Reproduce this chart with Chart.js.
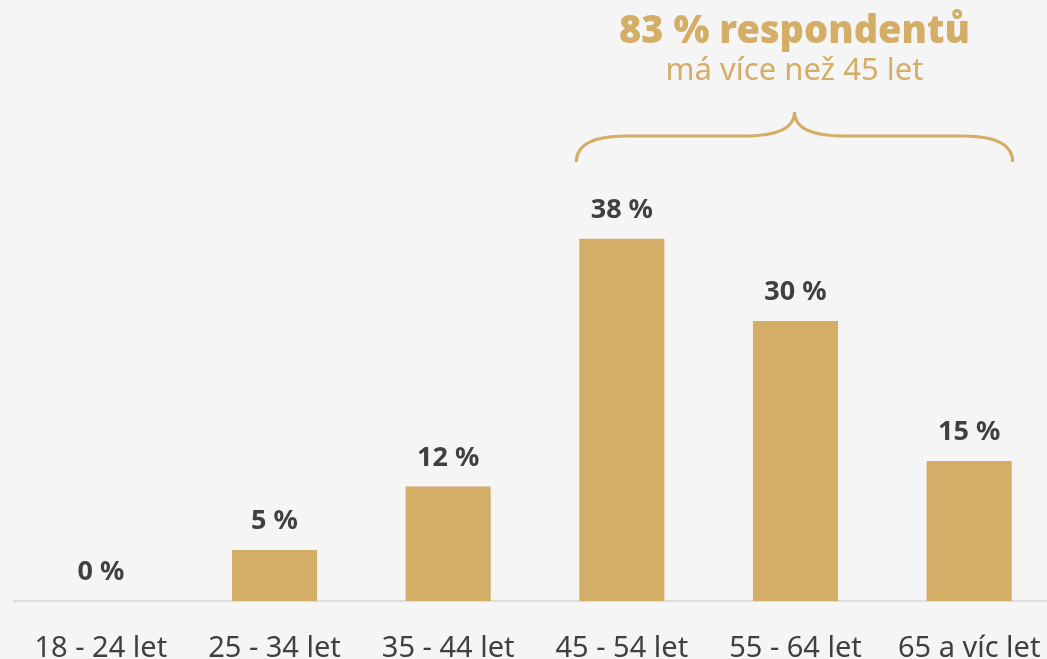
<!DOCTYPE html>
<html>
<head>
<meta charset="utf-8">
<script src="https://cdn.jsdelivr.net/npm/chart.js@4"></script>
<style>
  html, body { margin: 0; padding: 0; background: #f5f5f5; overflow: hidden; }
  .wrap { position: relative; width: 1056px; height: 659px; }
</style>
</head>
<body>
<div class="wrap"><canvas id="ages"></canvas></div>
<script>
const categories = ["18 - 24 let", "25 - 34 let", "35 - 44 let", "45 - 54 let", "55 - 64 let", "65 a víc let"];
const shares = [0, 5.4, 12.1, 38.3, 29.6, 14.8];
const shareLabels = ["0 %", "5 %", "12 %", "38 %", "30 %", "15 %"];
const headline = "83 % respondentů";
const subline = "má více než 45 let";

const gold = "#d4ad66";
const dark = "#404040";
const font = "'Noto Sans', sans-serif";

// value labels above bars + brace annotation over the 45+ groups
const extras = {
  id: "extras",
  afterDatasetsDraw(chart) {
    const c = chart.ctx;
    const meta = chart.getDatasetMeta(0);
    c.save();
    c.fillStyle = dark;
    c.font = "bold 27px " + font;
    c.textAlign = "center";
    c.textBaseline = "alphabetic";
    meta.data.forEach((bar, i) => {
      c.fillText(shareLabels[i], bar.x, bar.y - 21);
    });

    const a = meta.data[3], b = meta.data[5];
    const x1 = a.x - a.width / 2 - 3, x2 = b.x + b.width / 2 + 1;
    const mid = (x1 + x2) / 2;
    const yTop = 112, yMid = 136, yEnd = 162;
    c.strokeStyle = gold;
    c.lineWidth = 3;
    c.beginPath();
    c.moveTo(x1, yEnd);
    c.quadraticCurveTo(x1, yMid, x1 + 50, yMid);
    c.lineTo(mid - 50, yMid);
    c.quadraticCurveTo(mid, yMid, mid, yTop);
    c.quadraticCurveTo(mid, yMid, mid + 50, yMid);
    c.lineTo(x2 - 50, yMid);
    c.quadraticCurveTo(x2, yMid, x2, yEnd);
    c.stroke();

    c.fillStyle = gold;
    c.font = "900 38px " + font;
    c.fillText(headline, mid, 43);
    c.font = "31px " + font;
    c.fillText(subline, mid, 80);
    c.restore();
  }
};

new Chart(document.getElementById("ages"), {
  type: "bar",
  data: {
    labels: categories,
    datasets: [{
      data: shares,
      backgroundColor: gold,
      barPercentage: 0.98,
      categoryPercentage: 0.5
    }]
  },
  options: {
    responsive: true,
    maintainAspectRatio: false,
    animation: false,
    layout: { padding: { left: 14, right: 0, top: 128, bottom: 0 } },
    plugins: { legend: { display: false }, tooltip: { enabled: false } },
    scales: {
      y: { display: false, min: 0, max: 50 },
      x: {
        grid: { display: false },
        border: { display: true, color: "#dddddd", width: 2 },
        ticks: { color: dark, font: { family: font, size: 29 }, padding: 22, maxRotation: 0 },
        afterFit(s) { s.height = 58; s.paddingLeft = 0; s.paddingRight = 0; }
      }
    }
  },
  plugins: [extras]
});
</script>
</body>
</html>
